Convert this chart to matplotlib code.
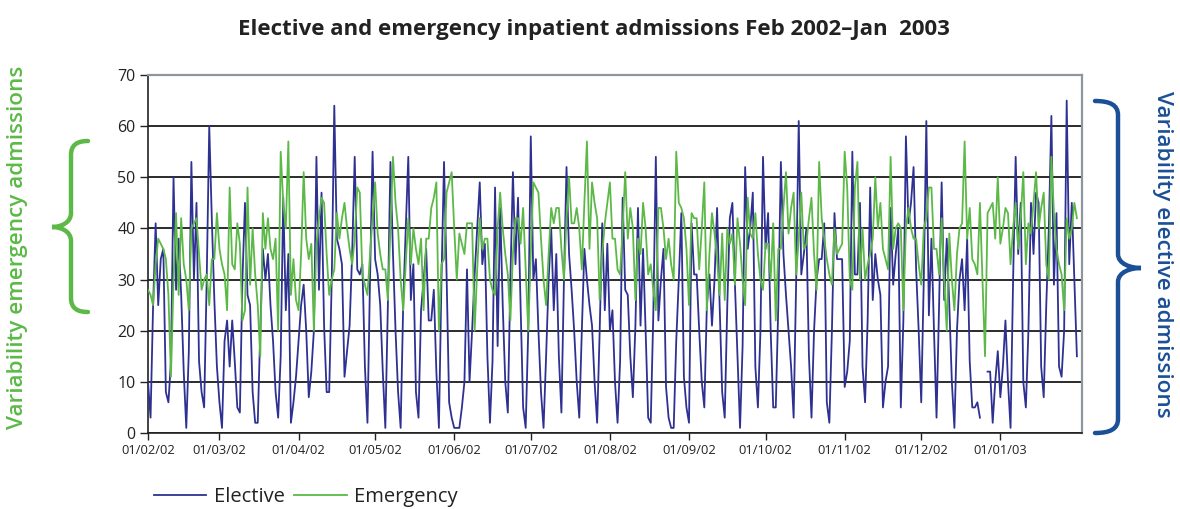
import numpy as np
import pandas as pd
import matplotlib
matplotlib.use("Agg")
import matplotlib.pyplot as plt
import matplotlib.dates as mdates
from matplotlib.path import Path
from matplotlib.patches import PathPatch
from matplotlib.lines import Line2D
import matplotlib.transforms as mtransforms

plt.rcParams["font.family"] = ["Open Sans", "DejaVu Sans"]

# daily admissions 01/02/2002 - 31/01/2003
elective = [
    10, 3, 25, 41, 25, 34, 36,   8, 6, 14, 50, 28, 38, 27,   12, 1, 16, 53, 30, 45, 14,
    8, 5, 30, 60, 42, 26, 13,    6, 1, 18, 22, 13, 22, 14,   5, 4, 30, 45, 27, 25, 8,
    2, 2, 20, 36, 30, 35, 25,    18, 8, 3, 15, 46, 24, 35,   2, 6, 11, 18, 25, 29, 20,
    7, 12, 20, 54, 28, 47, 21,   8, 8, 30, 64, 38, 36, 33,   11, 16, 21, 35, 54, 32, 31,
    33, 13, 2, 30, 55, 34, 31,   25, 12, 1, 25, 53, 35, 20,  8, 1, 25, 40, 54, 26, 33,
    8, 3, 24, 30, 36, 22, 22,    28, 12, 1, 30, 53, 31, 6,   3, 1, 1, 1, 5, 10, 32,
    10, 20, 31, 40, 49, 33, 37,  15, 2, 14, 48, 17, 44, 25,  10, 4, 30, 51, 33, 46, 25,
    5, 1, 20, 58, 30, 34, 20,    8, 1, 15, 30, 40, 24, 35,   15, 4, 30, 52, 35, 28, 20,
    10, 3, 20, 36, 30, 25, 21,   10, 2, 20, 41, 24, 37, 20,  24, 10, 2, 14, 46, 28, 27,
    15, 7, 21, 44, 21, 36, 20,   3, 2, 23, 54, 22, 30, 36,   9, 3, 1, 1, 18, 30, 43,
    11, 5, 2, 41, 31, 31, 20,    10, 5, 25, 31, 21, 30, 44,  25, 8, 3, 25, 42, 45, 29,
    15, 1, 17, 52, 36, 40, 47,   13, 5, 20, 54, 36, 43, 20,  5, 5, 25, 53, 35, 27, 20,
    13, 3, 30, 61, 31, 35, 40,   15, 3, 20, 30, 34, 34, 41,  6, 2, 20, 43, 34, 34, 34,
    9, 12, 18, 55, 31, 31, 45,   13, 6, 22, 48, 26, 35, 30,  27, 5, 10, 13, 44, 29, 35,
    40, 5, 22, 58, 41, 45, 52,   32, 20, 6, 30, 61, 23, 38,  20, 3, 25, 49, 26, 38, 25,
    10, 1, 20, 30, 34, 24, 38,   14, 5, 5, 6, 3, np.nan, np.nan,  12, 12, 2, 10, 16, 7, 13,
    22, 10, 1, 30, 54, 35, 45,   10, 5, 20, 45, 35, 47, 45,  13, 7, 25, 40, 62, 29, 43,
    13, 11, 20, 65, 33, 45, 30, 15,
]
emergency = [
    28, 27, 25, 33, 38, 37, 36, 34, 27, 11, 30, 43, 27, 42, 33, 30, 24, 40, 41, 42, 35,
    28, 30, 31, 25, 34, 34, 43, 36, 33, 31, 24, 48, 33, 32, 41, 37, 22, 24, 48, 29, 40,
    31, 25, 15, 43,
    36, 42, 36, 34, 38, 20, 55, 45, 40, 57, 27, 34, 26, 24, 35, 51, 38, 34, 37, 20, 37,
    42, 46, 45, 35, 27, 30, 32, 43, 38, 42, 45, 40, 36, 33, 38, 48, 47, 31, 29, 27, 35,
    42, 49, 39, 35, 32,
    32, 26, 40, 54, 45, 40, 30, 24, 33, 42, 33, 40, 36, 33, 38, 24, 38, 38, 44, 46, 49,
    20, 33, 34, 47, 49, 51, 40, 30, 39, 37, 35, 41, 41, 41, 20, 32, 42, 36, 38, 38, 30,
    28, 27, 40, 47,
    40, 35, 31, 22, 35, 42, 42, 37, 44, 32, 20, 35, 49, 48, 47, 38, 30, 25, 35, 44, 41,
    44, 44, 36, 30, 42, 50, 41, 41, 44, 40, 32, 45, 57, 36, 49, 45, 42, 26, 35, 41, 45,
    49, 38, 38, 32,
    31, 40, 51, 38, 44, 40, 26, 38, 35, 45, 40, 31, 33, 28, 24, 44, 44, 40, 34, 38, 33,
    30, 55, 45, 44, 42, 36, 25, 43, 42, 42, 32, 40, 49, 24, 35, 43, 39, 34, 27, 39, 26,
    40, 37, 39, 29, 42,
    37, 30, 25, 46, 39, 38, 43, 35, 30, 28, 37, 37, 30, 41, 22, 36, 36, 44, 51, 39, 44,
    47, 31, 38, 47, 36, 37, 42, 46, 35, 28, 53, 42, 38, 34, 31, 29, 40, 35, 36, 37, 55,
    48, 30, 28, 48,
    53, 30, 40, 30, 33, 35, 38, 50, 40, 45, 36, 34, 32, 54, 36, 40, 41, 40, 24, 40, 44,
    40, 38, 38, 33, 29, 40, 42, 48, 48, 36, 36, 31, 42, 30, 20, 39, 30, 24, 35, 40, 41,
    57, 38, 44, 34,
    33, 31, 45, 30, 15, 43, 44, 45, 38, 50, 37, 40, 44, 43, 33, 40, 45, 36, 42, 51, 33,
    41, 39, 45, 51, 40, 44, 47, 33, 30, 54, 43, 36, 33, 31, 24, 42, 38, 40, 45, 42,
]
days = pd.date_range("2002-02-01", periods=len(elective), freq="D")
month_ticks = pd.date_range("2002-02-01", "2003-01-01", freq="MS")

BLUE = "#2e3192"
GREEN = "#5cb947"
DKBLUE = "#1b4f96"
W, H = 1180, 509

fig = plt.figure(figsize=(W / 100, H / 100), dpi=100)
ax = fig.add_axes([148 / W, 1 - 433 / H, (1082 - 148) / W, (433 - 75) / H])

ax.plot(days, elective, color=BLUE, lw=1.3, zorder=3)
ax.plot(days, emergency, color=GREEN, lw=1.3, zorder=3)

ax.set_xlim(pd.Timestamp("2002-02-01"), pd.Timestamp("2003-02-02"))
ax.set_ylim(0, 70)
ax.set_yticks(range(0, 71, 10))
ax.set_xticks(month_ticks)
ax.xaxis.set_major_formatter(mdates.DateFormatter("%d/%m/%y"))
ax.tick_params(axis="x", labelsize=9.3, length=5, width=1, pad=3, colors="#222")
ax.tick_params(axis="y", labelsize=11.5, length=6, width=1, pad=3, colors="#222")
ax.yaxis.grid(True, color="#1a1a1a", lw=1.3)
ax.set_axisbelow(True)
for s in ("top", "right"):
    ax.spines[s].set_color("#8d969c")
    ax.spines[s].set_linewidth(1.6)
for s in ("left", "bottom"):
    ax.spines[s].set_color("#222")
    ax.spines[s].set_linewidth(1.2)

fig.text(0.503, 1 - 30 / H, "Elective and emergency inpatient admissions Feb 2002\u2013Jan  2003",
         ha="center", va="center", fontsize=16, weight="bold", color="#222")

fig.legend([Line2D([], [], color=BLUE, lw=1.3), Line2D([], [], color=GREEN, lw=1.3)],
           ["Elective", "Emergency"], loc="center left",
           bbox_to_anchor=(136 / W, 1 - 497 / H), ncol=2, frameon=False,
           fontsize=14.5, handlelength=2.6, handletextpad=0.35, columnspacing=0.5,
           labelcolor="#222")

# side annotations, pixel coords with y measured from the top
px = mtransforms.Affine2D().scale(1 / W, -1 / H).translate(0, 1) + fig.transFigure

def brace(x_end, x_mid, x_tip, y0, yc, y1, color):
    r = 14
    k = x_end - x_mid
    verts = [(x_end, y0), (x_mid + k * 0.35, y0), (x_mid, y0 + 4), (x_mid, y0 + r),
             (x_mid, yc - r),
             (x_mid, yc - 4), (x_tip + (x_mid - x_tip) * 0.45, yc), (x_tip, yc),
             (x_tip + (x_mid - x_tip) * 0.45, yc), (x_mid, yc + 4), (x_mid, yc + r),
             (x_mid, y1 - r),
             (x_mid, y1 - 4), (x_mid + k * 0.35, y1), (x_end, y1)]
    codes = [Path.MOVETO, Path.CURVE4, Path.CURVE4, Path.CURVE4, Path.LINETO,
             Path.CURVE4, Path.CURVE4, Path.CURVE4, Path.CURVE4, Path.CURVE4, Path.CURVE4,
             Path.LINETO, Path.CURVE4, Path.CURVE4, Path.CURVE4]
    fig.add_artist(PathPatch(Path(verts, codes), fill=False, edgecolor=color, lw=3.2,
                             capstyle="round", transform=px))

brace(88, 71, 52, 141, 227, 312, GREEN)
brace(1095, 1118, 1141, 101, 268, 433, DKBLUE)

fig.text(18 / W, 1 - 247 / H, "Variability emergency admissions", rotation=90,
         ha="center", va="center", fontsize=16.2, weight="semibold", color=GREEN)
fig.text(1163 / W, 1 - 254 / H, "Variability elective admissions", rotation=-90,
         ha="center", va="center", fontsize=16.2, weight="semibold", color=DKBLUE)

fig.savefig("out.png", dpi=100)
